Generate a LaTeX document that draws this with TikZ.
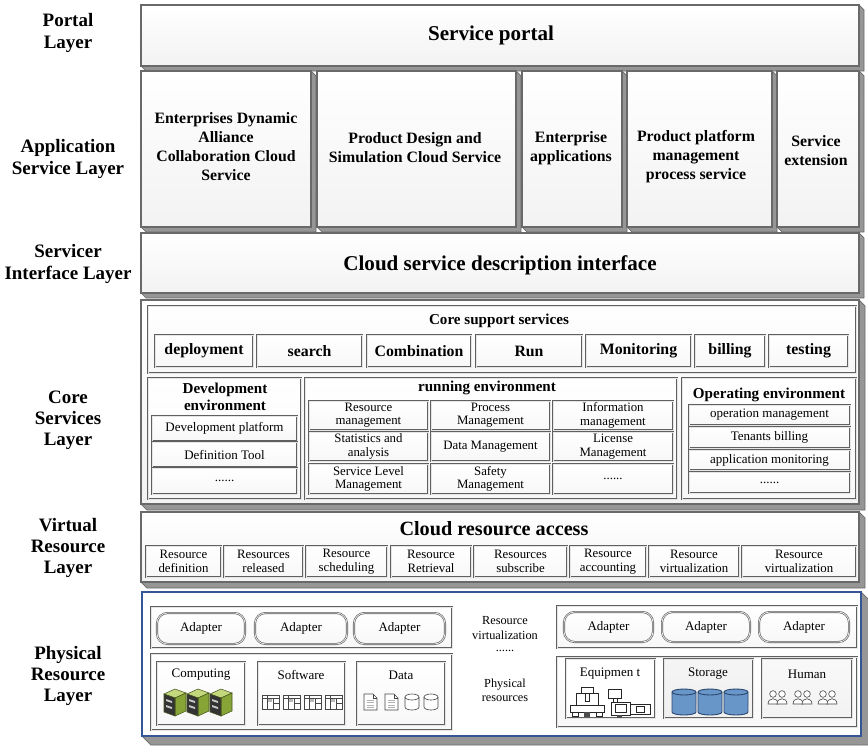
\documentclass[tikz,border=0pt]{standalone}
\usepackage{fontspec}
\setmainfont{Liberation Serif}
\usetikzlibrary{fit}

\definecolor{sidegray}{RGB}{150,150,150}
\definecolor{edgegray}{RGB}{105,105,105}
\definecolor{physblue}{RGB}{52,86,150}
\definecolor{srvgreen}{RGB}{135,165,55}
\definecolor{srvlight}{RGB}{195,215,125}
\definecolor{srvdark}{RGB}{70,85,30}
\definecolor{drumblue}{RGB}{105,150,200}
\definecolor{drumedge}{RGB}{40,70,110}

\tikzset{
  slabside/.style={fill=sidegray, draw=edgegray, line width=0.4pt},
  slabface/.style={draw=edgegray, line width=0.7pt, top color=white, bottom color=gray!10, inner sep=0pt},
  cellbox/.style={draw=gray!75!black, double=gray!20, double distance=0.45pt, line width=0.35pt,
    top color=white, bottom color=gray!6, inner sep=0pt, align=center},
  adapterbox/.style={rounded corners=6pt},
  layerlabel/.style={font=\fontsize{10.8}{12}\selectfont\bfseries, align=center},
  bigtitle/.style={font=\fontsize{12}{14}\selectfont\bfseries},
  apptext/.style={font=\fontsize{9}{10.8}\selectfont\bfseries, align=center},
  btntext/.style={font=\fontsize{9}{10}\selectfont\bfseries},
  subtitle/.style={font=\fontsize{8.6}{9.8}\selectfont\bfseries, align=center},
  smalltext/.style={font=\fontsize{7.3}{7.6}\selectfont, align=center},
  itemtext/.style={font=\fontsize{7.4}{8.2}\selectfont, align=center},
  equip/.style={draw=gray!30!black, fill=white, line width=0.45pt}
}

% slab with a shaded front face and a grey edge below and to the right
\newcommand{\layerslab}[7][]{%
  \filldraw[slabside] (#5,#4) -- (#5+#7,#4+#7) -- (#5+#7,#6+#7) -- (#3+#7,#6+#7) -- (#3,#6) -- cycle;
  \node[slabface, fit={(#3,#4) (#5,#6)}, #1] (#2) {};
}

% framed cell between two corners, text centred
\newcommand{\gridcell}[7][]{%
  \node[cellbox, minimum width={(#5-#3)*0.02cm}, minimum height={(#6-#4)*0.02cm}, #1]
    (#2) at ({(#3+#5)/2},{(#4+#6)/2}) {#7};
}

\newcommand{\servericon}[2]{%
  \begin{scope}[shift={(#1,#2)}]
    \filldraw[draw=srvdark, fill=srvlight, line width=0.3pt] (0,5) -- (11,0) -- (22,4) -- (11,9) -- cycle;
    \filldraw[draw=srvdark, fill=srvgreen, line width=0.3pt] (11,9) -- (22,4) -- (22,22) -- (11,27) -- cycle;
    \filldraw[draw=srvdark, fill=black!80, line width=0.3pt] (0,5) -- (11,9) -- (11,27) -- (0,23) -- cycle;
    \fill[gray!45] (2,10) -- (8,12) -- (8,14) -- (2,12) -- cycle;
    \fill[gray!45] (2,16) -- (8,18) -- (8,20) -- (2,18) -- cycle;
  \end{scope}}

\newcommand{\softicon}[2]{%
  \begin{scope}[shift={(#1,#2)}]
    \draw[gray!55!black, line width=0.35pt, fill=white] (0,0) rectangle (17,14);
    \draw[gray!55!black, line width=0.3pt] (0,3) -- (17,3) (5,0) -- (5,14) (11,3) -- (11,14) (11,8) -- (17,8);
    \fill[gray!55] (6,4) rectangle (10,7);
  \end{scope}}

\newcommand{\docicon}[2]{%
  \begin{scope}[shift={(#1,#2)}]
    \filldraw[gray!55!black, fill=white, line width=0.35pt] (0,0) -- (9,0) -- (13,4) -- (13,16) -- (0,16) -- cycle;
    \draw[gray!55!black, line width=0.3pt] (9,0) -- (9,4) -- (13,4);
    \foreach \r in {6,8.5,11,13.5} \draw[gray!60, line width=0.3pt] (3,\r) -- (10,\r);
  \end{scope}}

% cylinder: left x, top y, width, height, style
\newcommand{\drum}[5]{%
  \filldraw[#5] (#1,#2+3) -- (#1,#2+#4-3) arc[start angle=180, end angle=360, x radius=#3*0.01cm, y radius=0.06cm]
    -- (#1+#3,#2+3) arc[start angle=0, end angle=180, x radius=#3*0.01cm, y radius=0.06cm] -- cycle;
  \draw[#5, fill=none] (#1,#2+3) arc[start angle=180, end angle=360, x radius=#3*0.01cm, y radius=0.06cm];
}

\newcommand{\personicon}[2]{%
  \draw[gray!55!black, line width=0.35pt, fill=white] (#1-5,#2+12) .. controls (#1-5,#2+5) and (#1+5,#2+5) .. (#1+5,#2+12) -- cycle;
  \draw[gray!55!black, line width=0.35pt, fill=white] (#1,#2+2) circle[radius=1.9pt];
}

\begin{document}
\begin{tikzpicture}[x=0.02cm, y=-0.02cm]
  \useasboundingbox (0,0) rectangle (868,747);

  % --- layer names ---
  \node[layerlabel] (lblportal) at (68,33) {Portal\\Layer};
  \node[layerlabel] (lblapp) at (68,159) {Application\\Service Layer};
  \node[layerlabel] (lbliface) at (68,264) {Servicer\\Interface Layer};
  \node[layerlabel] (lblcore) at (68,420) {Core\\Services\\Layer};
  \node[layerlabel] (lblvirt) at (68,548) {Virtual\\Resource\\Layer};
  \node[layerlabel] (lblphys) at (68,676) {Physical\\Resource\\Layer};

  % --- portal ---
  \layerslab{portal}{141}{5}{859}{66}{5}
  \node[bigtitle] (portaltxt) at (491,35) {Service portal};

  % --- application services ---
  \layerslab{appA}{141}{71}{311}{227}{5}
  \layerslab{appB}{317}{71}{516}{227}{5}
  \layerslab{appC}{522}{71}{622}{227}{5}
  \layerslab{appD}{627}{71}{772}{227}{5}
  \layerslab{appE}{777}{71}{859}{227}{5}
  \node[apptext] (appAtxt) at (226,147) {Enterprises Dynamic\\Alliance\\Collaboration Cloud\\Service};
  \node[apptext] (appBtxt) at (415,148) {Product Design and\\Simulation Cloud Service};
  \node[apptext] (appCtxt) at (571,148) {Enterprise\\applications};
  \node[apptext] (appDtxt) at (696,157) {Product platform\\management\\process service};
  \node[apptext] (appEtxt) at (816,151) {Service\\extension};

  % --- service interface ---
  \layerslab{iface}{141}{233}{859}{293}{5}
  \node[bigtitle] (ifacetxt) at (500,265) {Cloud service description interface};

  % --- core services ---
  \layerslab{core}{141}{300}{859}{504}{6}
  \gridcell{support}{148}{306}{856}{373}{}
  \node[subtitle] (supporttxt) at (499,321) {Core support services};
  \gridcell[btntext]{deploy}{155}{335}{253}{367}{deployment}
  \gridcell[btntext]{search}{257}{335}{362}{367}{search}
  \gridcell[btntext]{combine}{367}{335}{471}{367}{Combination}
  \gridcell[btntext]{run}{476}{335}{582}{367}{Run}
  \gridcell[btntext]{monitor}{586}{335}{691}{367}{Monitoring}
  \gridcell[btntext]{billing}{695}{335}{765}{367}{billing}
  \gridcell[btntext]{testing}{769}{335}{848}{367}{testing}

  \gridcell{devenv}{148}{378}{301}{499}{}
  \node[subtitle] (devtxt) at (225,397) {Development\\environment};
  \gridcell[itemtext]{devplat}{152}{416}{297}{441}{Development platform}
  \gridcell[itemtext]{deftool}{152}{442}{297}{467}{Definition Tool}
  \gridcell[itemtext]{devmore}{152}{468}{297}{494}{......}

  \gridcell{runenv}{305}{378}{677}{499}{}
  \node[subtitle] (runtxt) at (487,388) {running environment};
  \gridcell[smalltext]{resmgmt}{309}{401}{428}{430}{Resource\\management}
  \gridcell[smalltext]{procmgmt}{431}{401}{550}{430}{Process\\Management}
  \gridcell[smalltext]{infomgmt}{553}{401}{673}{430}{Information\\management}
  \gridcell[smalltext]{stats}{309}{432}{428}{461}{Statistics and\\analysis}
  \gridcell[smalltext]{datamgmt}{431}{432}{550}{461}{Data Management}
  \gridcell[smalltext]{licmgmt}{553}{432}{673}{461}{License\\Management}
  \gridcell[smalltext]{slamgmt}{309}{464}{428}{494}{Service Level\\Management}
  \gridcell[smalltext]{safemgmt}{431}{464}{550}{494}{Safety\\Management}
  \gridcell[smalltext]{runmore}{553}{464}{673}{494}{......}

  \gridcell{opsenv}{682}{378}{856}{499}{}
  \node[subtitle] (opstxt) at (769,395) {Operating environment};
  \gridcell[itemtext]{opmgmt}{689}{405}{850}{425}{operation management}
  \gridcell[itemtext]{tenants}{689}{427}{850}{448}{Tenants billing}
  \gridcell[itemtext]{appmon}{689}{450}{850}{470}{application monitoring}
  \gridcell[itemtext]{opsmore}{689}{472}{850}{493}{......}

  % --- virtual resources ---
  \layerslab{virt}{141}{512}{859}{582}{6}
  \node[bigtitle, font=\fontsize{11.5}{13}\selectfont\bfseries] (virttxt) at (494,529) {Cloud resource access};
  \gridcell[smalltext]{resdef}{146}{546}{221}{577}{Resource\\definition}
  \gridcell[smalltext]{resrel}{224}{546}{303}{577}{Resources\\released}
  \gridcell[smalltext]{ressched}{306}{546}{387}{577}{Resource\\scheduling}
  \gridcell[smalltext]{resret}{391}{546}{471}{577}{Resource\\Retrieval}
  \gridcell[smalltext]{ressub}{474}{546}{567}{577}{Resources\\subscribe}
  \gridcell[smalltext]{resacc}{570}{546}{646}{577}{Resource\\accounting}
  \gridcell[smalltext]{resvirtA}{649}{546}{739}{577}{Resource\\virtualization}
  \gridcell[smalltext]{resvirtB}{742}{546}{856}{577}{Resource\\virtualization}

  % --- physical resources ---
  \layerslab[draw=physblue, line width=1pt, top color=white, bottom color=white]{phys}{142}{592}{861}{736}{9}

  \gridcell{adaptL}{151}{607}{452}{648}{}
  \gridcell[adapterbox, itemtext]{adL1}{157}{613}{245}{644}{Adapter}
  \gridcell[adapterbox, itemtext]{adL2}{255}{613}{347}{644}{Adapter}
  \gridcell[adapterbox, itemtext]{adL3}{354}{613}{445}{644}{Adapter}
  \gridcell{resL}{151}{654}{452}{730}{}
  \gridcell{computing}{157}{662}{245}{725}{}
  \gridcell{software}{258}{662}{345}{725}{}
  \gridcell{data}{357}{662}{445}{725}{}
  \node[itemtext] (comptxt) at (201,675) {Computing};
  \node[itemtext] (softtxt) at (301,675) {Software};
  \node[itemtext] (datatxt) at (401,675) {Data};
  \servericon{164}{689}
  \servericon{187}{689}
  \servericon{210}{689}
  \softicon{262}{695}
  \softicon{283}{695}
  \softicon{304}{695}
  \softicon{325}{695}
  \docicon{364}{694}
  \docicon{385}{694}
  \drum{405}{694}{14}{16}{draw=gray!55!black, fill=white, line width=0.35pt}
  \drum{424}{694}{14}{16}{draw=gray!55!black, fill=white, line width=0.35pt}

  \node[smalltext, font=\fontsize{7}{8}\selectfont] (virtnote) at (505,628) {Resource\\virtualization};
  \node[smalltext, font=\fontsize{7}{8}\selectfont] (dotsnote) at (505,651) {......};
  \node[smalltext, font=\fontsize{7}{8}\selectfont] (physnote) at (505,690) {Physical\\resources};

  \gridcell{adaptR}{557}{606}{857}{648}{}
  \gridcell[adapterbox, itemtext]{adR1}{564}{612}{653}{642}{Adapter}
  \gridcell[adapterbox, itemtext]{adR2}{662}{612}{750}{642}{Adapter}
  \gridcell[adapterbox, itemtext]{adR3}{759}{612}{849}{642}{Adapter}
  \gridcell{resR}{557}{657}{857}{727}{}
  \gridcell[top color=white, bottom color=white]{equipment}{566}{659}{655}{718}{}
  \gridcell[top color=gray!8, bottom color=gray!12]{storage}{664}{659}{753}{718}{}
  \gridcell[top color=gray!5, bottom color=gray!10]{human}{762}{659}{852}{718}{}
  \node[itemtext] (equiptxt) at (610,674) {Equipmen t};
  \node[itemtext] (storetxt) at (708,674) {Storage};
  \node[itemtext] (humantxt) at (807,674) {Human};

  % machine tools
  \draw[equip] (570,705) rectangle (604,712);
  \draw[equip] (576,693) rectangle (598,705);
  \draw[equip] (581,687) rectangle (593,693);
  \draw[equip] (585,693) rectangle (589,701);
  \draw[equip] (572,712) rectangle (578,716) (596,712) rectangle (602,716);
  \fill[black!70] (584,712) rectangle (590,717);
  \draw[equip] (608,689) rectangle (621,698);
  \draw[equip] (613,698) rectangle (617,702);
  \draw[equip] (611,702) rectangle (630,715);
  \draw[equip] (630,704) rectangle (650,714);
  \draw[equip] (636,706) rectangle (644,712);
  \draw[equip] (615,704) rectangle (626,712);
  \fill[black!70] (617,715) rectangle (622,718);

  \drum{672}{689}{24}{26}{draw=drumedge, fill=drumblue, line width=0.5pt}
  \drum{698}{689}{24}{26}{draw=drumedge, fill=drumblue, line width=0.5pt}
  \drum{724}{689}{24}{26}{draw=drumedge, fill=drumblue, line width=0.5pt}

  \personicon{773}{692}\personicon{782}{692}
  \personicon{798}{692}\personicon{807}{692}
  \personicon{823}{692}\personicon{832}{692}

\end{tikzpicture}
\end{document}
